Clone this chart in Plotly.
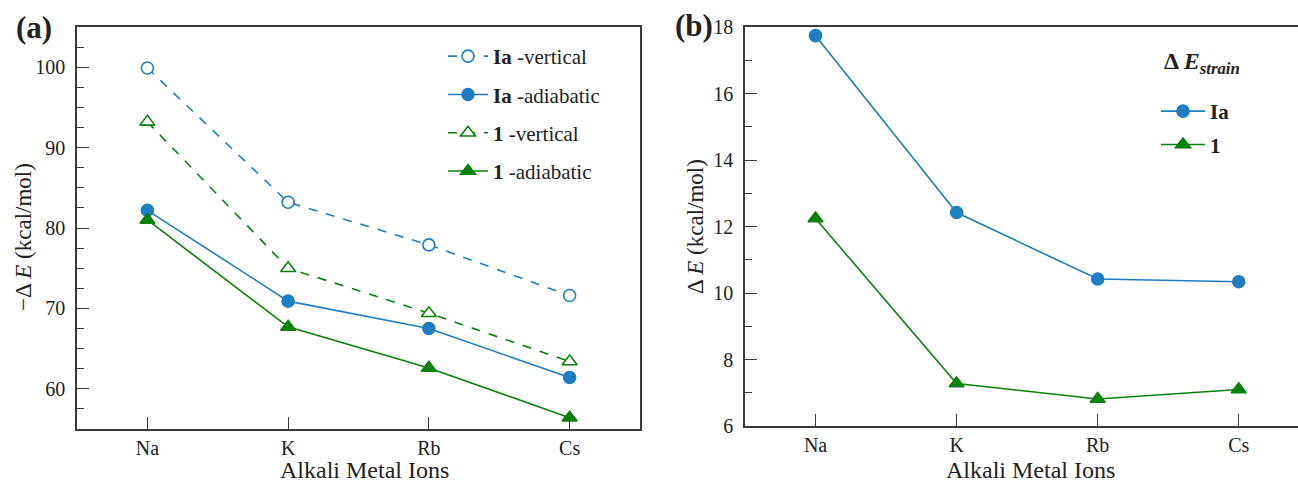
import plotly.graph_objects as go

ions = ["Na", "K", "Rb", "Cs"]
# panel (a): -ΔE (kcal/mol)
ia_vertical = [99.9, 83.2, 77.9, 71.6]
ia_adiabatic = [82.2, 70.9, 67.5, 61.4]
one_vertical = [93.2, 75.0, 69.4, 63.4]
one_adiabatic = [81.0, 67.7, 62.6, 56.4]
# panel (b): ΔE_strain (kcal/mol)
ia_strain = [17.74, 12.42, 10.42, 10.34]
one_strain = [12.24, 7.28, 6.81, 7.10]

BLUE = "#1f7ec2"
GREEN = "#0a820a"
AX = "#3a3a3a"
FONT = "Liberation Serif, Times New Roman, DejaVu Serif, serif"

fig = go.Figure()

def tr(y, name, color, dash, symbol, hollow, xa, ya, legend):
    fig.add_trace(go.Scatter(
        x=ions, y=y, name=name, mode="lines+markers",
        line=dict(color=color, width=1.6, dash=dash),
        marker=dict(symbol=symbol, size=12 if symbol == "circle" else 13,
                    color="white" if hollow else color,
                    line=dict(color=color, width=1.6)),
        xaxis=xa, yaxis=ya, legend=legend, legendgroup=name))

tr(ia_vertical, "<b>Ia</b> -vertical", BLUE, "dash", "circle", True, "x", "y", "legend")
tr(ia_adiabatic, "<b>Ia</b> -adiabatic", BLUE, "solid", "circle", False, "x", "y", "legend")
tr(one_vertical, "<b>1</b> -vertical", GREEN, "dash", "triangle-up", True, "x", "y", "legend")
tr(one_adiabatic, "<b>1</b> -adiabatic", GREEN, "solid", "triangle-up", False, "x", "y", "legend")
tr(ia_strain, "<b>Ia</b>", BLUE, "solid", "circle", False, "x2", "y2", "legend2")
tr(one_strain, "<b>1</b>", GREEN, "solid", "triangle-up", False, "x2", "y2", "legend2")

H = 486.0
W = 1298.0
axcommon = dict(showline=True, linecolor=AX, linewidth=1.6, ticks="inside",
                tickcolor=AX, tickwidth=1.2, ticklen=12, showgrid=False, zeroline=False,
                tickfont=dict(family=FONT, size=20, color="#222"), automargin=False)

fig.update_layout(
    width=1298, height=486,
    margin=dict(l=0, r=0, t=0, b=0),
    paper_bgcolor="white", plot_bgcolor="white",
    font=dict(family=FONT, color="#222"),
    xaxis=dict(domain=[77 / W, 640 / W], range=[-0.5, 3.5], mirror=True,
               ticklabelstandoff=0, **axcommon),
    yaxis=dict(domain=[1 - 429 / H, 1 - 27 / H], range=[55, 105],
               tickvals=[60, 70, 80, 90, 100], mirror=True, ticklabelstandoff=6,
               minor=dict(dtick=2.5, ticks="inside", ticklen=7, tickcolor=AX, tickwidth=1.2),
               **axcommon),
    xaxis2=dict(domain=[745 / W, 1.0], range=[-0.5, 3.42], mirror=True, anchor="y2",
                ticklabelstandoff=0, **axcommon),
    yaxis2=dict(domain=[1 - 426 / H, 1 - 27 / H], range=[6, 18], tickvals=[6, 8, 10, 12, 14, 16, 18],
                anchor="x2", ticklabelstandoff=6,
                minor=dict(dtick=1, ticks="inside", ticklen=7, tickcolor=AX, tickwidth=1.2),
                **axcommon),
    legend=dict(x=443 / W, y=1 - 36 / H, xanchor="left", yanchor="top",
                bgcolor="rgba(0,0,0,0)", font=dict(family=FONT, size=21, color="#222"),
                traceorder="grouped", tracegroupgap=8, itemwidth=40),
    legend2=dict(x=1156 / W, y=1 - 91 / H, xanchor="left", yanchor="top",
                 bgcolor="rgba(0,0,0,0)", font=dict(family=FONT, size=21, color="#222"),
                 traceorder="grouped", tracegroupgap=3, itemwidth=44),
    showlegend=True,
)

ann = [
    dict(text="<b>(a)</b>", x=34 / W, y=1 - 28 / H, font=dict(size=31)),
    dict(text="<b>(b)</b>", x=694 / W, y=1 - 25 / H, font=dict(size=31)),
    dict(text="Alkali Metal Ions", x=364 / W, y=1 - 470 / H, font=dict(size=24)),
    dict(text="Alkali Metal Ions", x=1030 / W, y=1 - 470 / H, font=dict(size=24)),
    dict(text="−Δ <i>E</i> (kcal/mol)", x=24 / W, y=1 - 237 / H, font=dict(size=23), textangle=-90),
    dict(text="Δ <i>E</i> (kcal/mol)", x=695 / W, y=1 - 226 / H, font=dict(size=23), textangle=-90),
    dict(text="<b>Δ <i>E</i><sub><i>strain</i></sub></b>", x=1202 / W, y=1 - 63 / H, font=dict(size=24)),
]
for a in ann:
    a["font"]["family"] = FONT
    a["font"]["color"] = "#222"
    fig.add_annotation(xref="paper", yref="paper", showarrow=False,
                       xanchor="center", yanchor="middle", **a)

fig.write_html("out.html", post_script="document.body.style.margin='0';",
               config={"displayModeBar": False})
